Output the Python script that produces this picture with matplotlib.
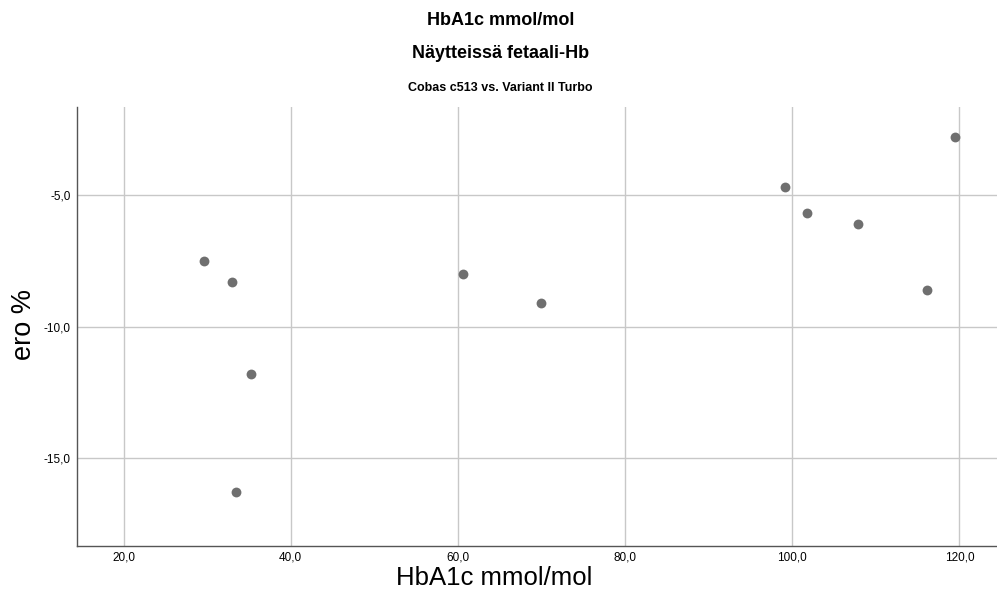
import matplotlib
matplotlib.use('Agg')
import matplotlib.pyplot as plt
from matplotlib.ticker import FuncFormatter

# HbA1c mmol/mol ja ero %
hba1c = [29.6, 33.0, 35.3, 33.5, 60.6, 70.0, 99.1, 101.8, 107.9, 116.1, 119.5]
ero = [-7.5, -8.3, -11.8, -16.3, -8.0, -9.1, -4.7, -5.7, -6.1, -8.6, -2.8]

x_ticks = [20, 40, 60, 80, 100, 120]
y_ticks = [-5, -10, -15]

title1 = 'HbA1c mmol/mol'
title2 = 'Näytteissä fetaali-Hb'
title3 = 'Cobas c513 vs. Variant II Turbo'
font = 'Liberation Sans'

fig = plt.figure(figsize=(9.97, 5.92), dpi=100)
ax = fig.add_axes([0.077, 0.078, 0.923, 0.741])

ax.scatter(hba1c, ero, s=50, color='#6f6f6f', zorder=3, linewidths=0)

ax.set_xlim(14.4, 124.5)
ax.set_ylim(-18.33, -1.66)
ax.set_xticks(x_ticks)
ax.set_yticks(y_ticks)
fmt = FuncFormatter(lambda v, p: '{:.1f}'.format(v).replace('.', ','))
ax.xaxis.set_major_formatter(fmt)
ax.yaxis.set_major_formatter(fmt)
ax.tick_params(length=0, labelsize=8.5)
ax.tick_params(axis='x', pad=4)
ax.tick_params(axis='y', pad=4.5)
for lab in ax.get_xticklabels() + ax.get_yticklabels():
    lab.set_family(font)

ax.grid(True, color='#c8c8c8', linewidth=1)
ax.set_axisbelow(True)
for s in ['top', 'right']:
    ax.spines[s].set_visible(False)
for s in ['left', 'bottom']:
    ax.spines[s].set_color('#555555')
    ax.spines[s].set_linewidth(1)

ax.set_xlabel('HbA1c mmol/mol', fontsize=18.5, family=font, va='baseline')
ax.xaxis.set_label_coords(494 / 997, 7 / 592, transform=fig.transFigure)
ax.set_ylabel('ero %', fontsize=19.5, family=font, va='center')
ax.yaxis.set_label_coords(24 / 997, 268 / 592, transform=fig.transFigure)

fig.text(0.502, 0.965, title1, ha='center', va='center', fontsize=13, fontweight='bold', family=font)
fig.text(0.502, 0.910, title2, ha='center', va='center', fontsize=13, fontweight='bold', family=font)
fig.text(0.502, 0.851, title3, ha='center', va='center', fontsize=9, fontweight='bold', family=font)

fig.savefig('out.png', dpi=100)
